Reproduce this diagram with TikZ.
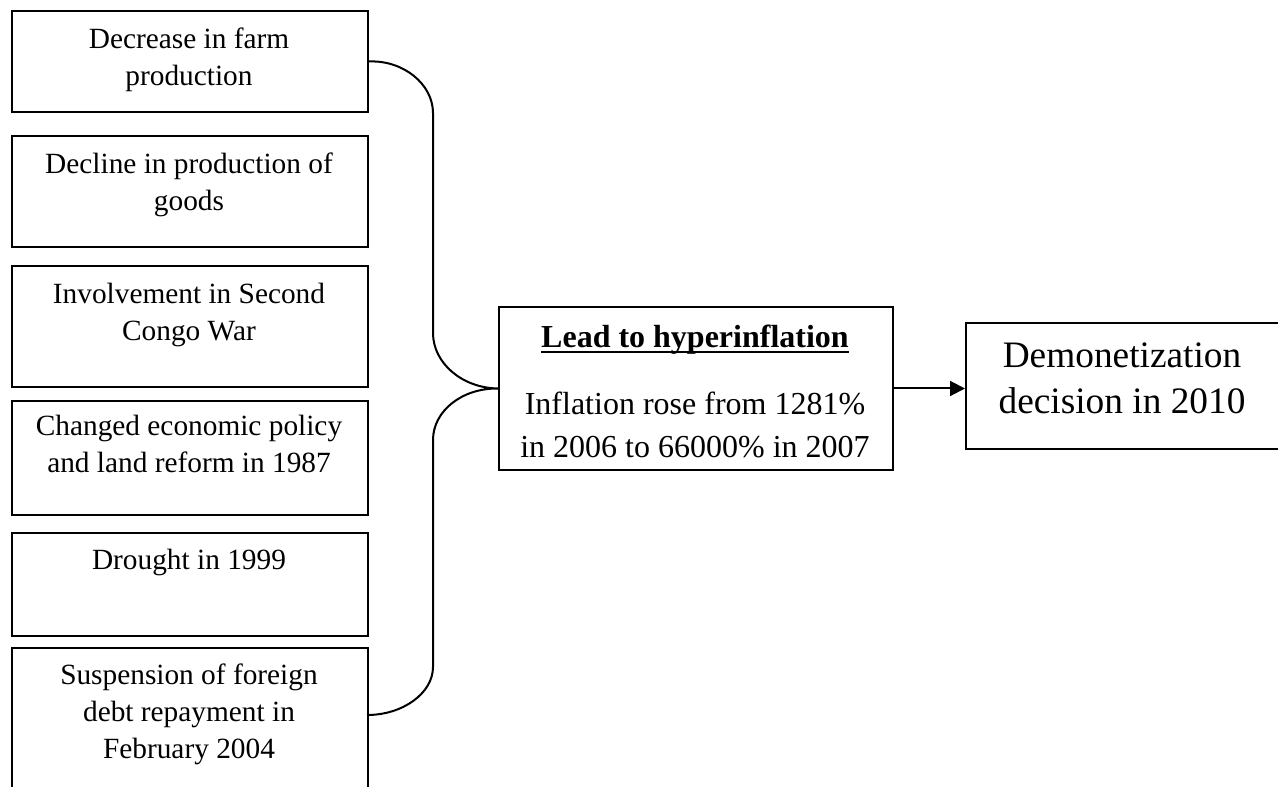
\documentclass[tikz,border=0pt]{standalone}
\usepackage{fontspec}
\setmainfont{Liberation Serif}
\usetikzlibrary{arrows.meta}
\newcommand\myul[1]{\setbox0\hbox{#1}\rlap{\rule[-2pt]{\wd0}{0.7pt}}\box0}
\tikzset{
  box/.style={draw, line width=0.75pt, inner sep=0pt, anchor=north west, rectangle},
  lefttxt/.style={anchor=north, inner sep=0pt, align=center, font=\fontsize{11}{13.9}\selectfont},
  midtxt/.style={anchor=north, inner sep=0pt, align=center, font=\fontsize{12}{16.1}\selectfont},
  righttxt/.style={anchor=north, inner sep=0pt, align=center, font=\fontsize{14}{17.25}\selectfont},
  link/.style={line width=0.75pt},
  arr/.style={line width=0.75pt, -{Triangle[length=5.6pt, width=5.6pt]}}
}
\begin{document}
\begin{tikzpicture}[x=0.375pt, y=-0.375pt]
\clip (0,0) rectangle (1278,787);
\fill[white] (0,0) rectangle (1278,787);
% left boxes
\node[box, minimum width=356*0.375pt, minimum height=101*0.375pt] (b1) at (11,10) {};
\node[box, minimum width=356*0.375pt, minimum height=111*0.375pt] (b2) at (11,135) {};
\node[box, minimum width=356*0.375pt, minimum height=121*0.375pt] (b3) at (11,265) {};
\node[box, minimum width=356*0.375pt, minimum height=114*0.375pt] (b4) at (11,400) {};
\node[box, minimum width=356*0.375pt, minimum height=103*0.375pt] (b5) at (11,532) {};
\node[box, minimum width=356*0.375pt, minimum height=153*0.375pt] (b6) at (11,647) {};
\node[lefttxt] (t1) at (189,22) {\strut Decrease in farm\\production};
\node[lefttxt] (t2) at (189,147) {\strut Decline in production of\\goods};
\node[lefttxt] (t3) at (189,277) {\strut Involvement in Second\\Congo War};
\node[lefttxt] (t4) at (189,409) {\strut Changed economic policy\\and land reform in 1987};
\node[lefttxt] (t5) at (189,543) {\strut Drought in 1999};
\node[lefttxt] (t6) at (189,658) {\strut Suspension of foreign\\debt repayment in\\February 2004};
% middle box
\node[box, minimum width=394*0.375pt, minimum height=163*0.375pt] (m) at (498,306) {};
\node[midtxt] (mt) at (695,317) {\strut\myul{\textbf{Lead to hyperinflation}}\\[9pt]Inflation rose from 1281\%\\in 2006 to 66000\% in 2007};
% right box
\node[box, minimum width=315*0.375pt, minimum height=126*0.375pt] (r) at (965,322) {};
\node[righttxt] (rt) at (1122,335) {\strut Demonetization\\decision in 2010};
% brace connector
\coordinate (b6c) at (367,715);
\coordinate (tip) at (m.west);
\draw[link] (b1.east) .. controls (403,60) and (433,84) .. (433,113)
  -- (433,333) .. controls (433,363) and (462,388) .. (tip)
  .. controls (462,388) and (433,411) .. (433,440)
  -- (433,667) .. controls (433,693) and (403,715) .. (b6c);
% arrow
\draw[arr] (m.east) -- (m.east -| r.west);
\end{tikzpicture}
\end{document}
